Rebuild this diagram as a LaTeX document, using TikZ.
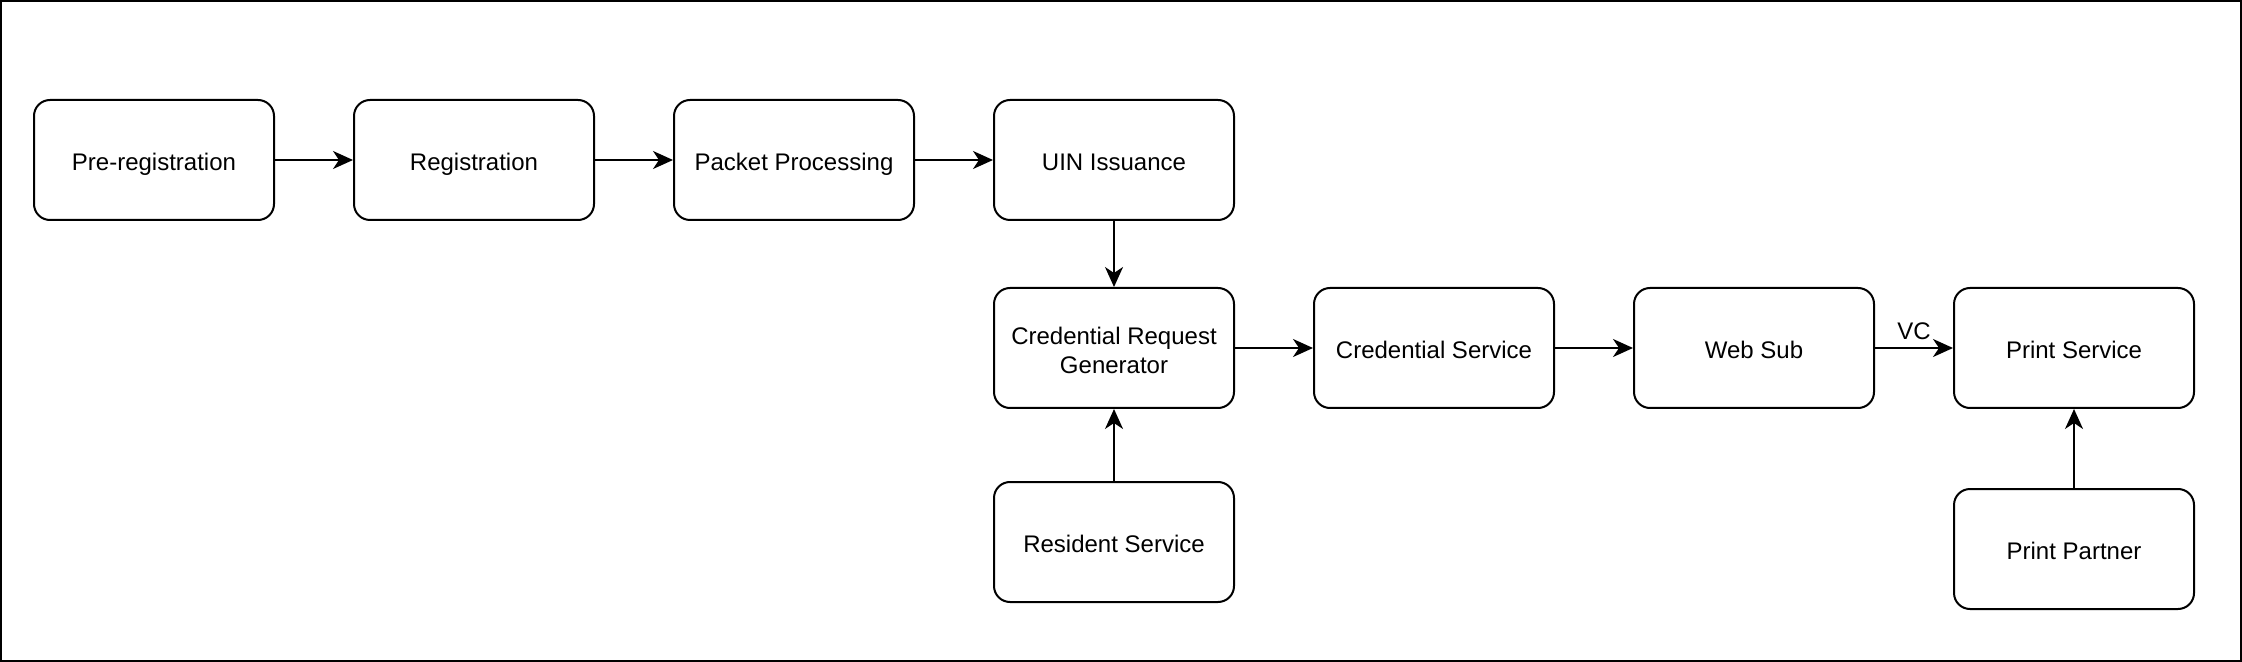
\documentclass[tikz,border=0pt]{standalone}
\usepackage{fontspec}
\setmainfont{Liberation Sans}
\usetikzlibrary{arrows.meta}

\begin{document}
\begin{tikzpicture}[x=1pt,y=1pt,yscale=-1,font=\fontsize{12}{14.4}\selectfont,
  box/.style={draw, line width=1pt, rounded corners=8pt, minimum width=120pt, minimum height=60pt, align=center, inner sep=0pt, text height=13.1pt, text depth=2.5pt},
  flow/.style={draw, line width=1pt, -{Stealth[length=10pt,width=9pt,inset=3pt]}}]
\useasboundingbox (0,0) rectangle (1121,331);

%Shape: Rectangle [frame]
\draw[line width=1pt] (0.5,0.5) rectangle (1120.5,330.5);

%Shape: Rounded Rect [top row]
\node[box] (prereg) at (77,80) {Pre-registration};
\node[box] (reg) at (237,80) {Registration};
\node[box] (packet) at (397,80) {Packet Processing};
\node[box] (uin) at (557,80) {UIN Issuance};

%Shape: Rounded Rect [middle row]
\node[box, text height=28pt] (credreq) at (557,174) {Credential Request\\Generator};
\node[box] (credsvc) at (717,174) {Credential Service};
\node[box] (websub) at (877,174) {Web Sub};
\node[box] (printsvc) at (1037,174) {Print Service};

%Shape: Rounded Rect [bottom row]
\node[box] (resident) at (557,271) {Resident Service};
\node[box] (partner) at (1037,274.5) {Print Partner};

%Straight Lines [arrows]
\draw[flow] (prereg) -- (reg);
\draw[flow] (reg) -- (packet);
\draw[flow] (packet) -- (uin);
\draw[flow] (uin) -- (credreq);
\draw[flow] (resident) -- (credreq);
\draw[flow] (credreq) -- (credsvc);
\draw[flow] (credsvc) -- (websub);
\draw[flow] (websub) -- node[above, inner sep=3.5pt] (vc) {VC} (printsvc);
\draw[flow] (partner) -- (printsvc);

\end{tikzpicture}
\end{document}
